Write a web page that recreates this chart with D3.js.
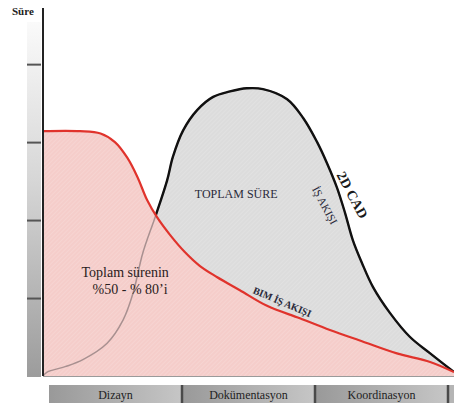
<!DOCTYPE html>
<html><head><meta charset="utf-8">
<script src="https://cdn.jsdelivr.net/npm/d3@7"></script>
<style>
html,body{margin:0;padding:0;background:#fff;}
svg{display:block;}
text{font-family:"Liberation Serif","Times New Roman",serif;}
</style></head>
<body>
<svg id="chart" width="454" height="408"></svg>
<script>
// ---- data ----
const phases = ["Dizayn", "Dokümentasyon", "Koordinasyon"];
const yTicks = [1, 2, 3, 4];
// progress through project (0-100), time units
const bimX = [0, 9, 14, 17.5, 20.5, 23, 25.3, 27.7, 30.9, 34.5, 38.2, 42.3, 47.9, 54.5, 62.5, 69.8, 77.9, 86.1, 94.2, 100];
const bimY = [3.14, 3.14, 3.11, 3.0, 2.8, 2.55, 2.26, 2.04, 1.81, 1.59, 1.41, 1.27, 1.10, 0.90, 0.74, 0.59, 0.44, 0.29, 0.18, 0.05];
const cadX = [0, 1, 5.4, 9.7, 15.6, 19.5, 21.9, 24.3, 27.3, 30.2, 31.6, 34.1, 37.5, 41.4, 45.5, 49.6, 53.5, 59.4, 63.3, 66.7, 69.1, 71.5, 73.5, 75.4, 77.6, 80.3, 84.4, 89.3, 94.2, 100];
const cadY = [0, 0.05, 0.12, 0.21, 0.42, 0.72, 1.06, 1.58, 2.04, 2.51, 2.81, 3.15, 3.41, 3.58, 3.65, 3.69, 3.68, 3.55, 3.31, 3.00, 2.73, 2.42, 2.09, 1.74, 1.45, 1.14, 0.81, 0.50, 0.29, 0.05];

const bim = bimX.map((d, i) => ({x: d, y: bimY[i]}));
const cad = cadX.map((d, i) => ({x: d, y: cadY[i]}));

const svg = d3.select("#chart");
const x = d3.scaleLinear().domain([0, 100]).range([43, 454]);
const y = d3.scaleLinear().domain([0, 4.72]).range([376, 8]);
const phaseX = d3.scaleBand().domain(phases).range([49, 448]).padding(0);
const curve = d3.curveCatmullRom.alpha(0.5);

const defs = svg.append("defs");
// gradients
const lg = defs.append("linearGradient").attr("id", "axisGrad").attr("x1", 0).attr("y1", 0).attr("x2", 0).attr("y2", 1);
lg.append("stop").attr("offset", "0%").attr("stop-color", "#fafafa");
lg.append("stop").attr("offset", "45%").attr("stop-color", "#d6d6d6");
lg.append("stop").attr("offset", "100%").attr("stop-color", "#9c9c9c");
const pg = defs.append("linearGradient").attr("id", "phaseGrad").attr("x1", 0).attr("y1", 0).attr("x2", 1).attr("y2", 0);
pg.append("stop").attr("offset", "0%").attr("stop-color", "#999");
pg.append("stop").attr("offset", "100%").attr("stop-color", "#c6c6c6");
// hatch pattern
const hp = defs.append("pattern").attr("id", "hatch").attr("patternUnits", "userSpaceOnUse")
  .attr("width", 3).attr("height", 3).attr("patternTransform", "rotate(45)");
hp.append("line").attr("x1", 0).attr("y1", 0).attr("x2", 0).attr("y2", 3)
  .attr("stroke", "#ffffff").attr("stroke-width", 0.8).attr("stroke-opacity", 0.35);

// clip: region above BIM curve
defs.append("clipPath").attr("id", "aboveBim").append("path")
  .attr("d", d3.area().x(d => x(d.x)).y0(0).y1(d => y(d.y)).curve(curve)(bim));

// left gradient bar + ticks
svg.append("rect").attr("x", 27).attr("y", 22).attr("width", 14).attr("height", 355).attr("fill", "url(#axisGrad)");
const yAxis = d3.axisLeft(y).tickValues(yTicks).tickSize(14).tickFormat("");
const ya = svg.append("g").attr("transform", "translate(41,0)").call(yAxis);
ya.select(".domain").remove();
ya.selectAll(".tick line").attr("stroke", "#555").attr("stroke-width", 2);

// areas
const area = d3.area().x(d => x(d.x)).y0(y(0)).y1(d => y(d.y)).curve(curve);
const line = d3.line().x(d => x(d.x)).y(d => y(d.y)).curve(curve);

svg.append("path").attr("d", area(cad)).attr("fill", "#dcdcdc");
svg.append("path").attr("d", area(cad)).attr("fill", "url(#hatch)");
svg.append("path").attr("d", area(bim)).attr("fill", "#f5cdca");
svg.append("path").attr("d", area(bim)).attr("fill", "url(#hatch)");
// faint part of CAD line seen through pink
svg.append("path").attr("d", line(cad)).attr("fill", "none").attr("stroke", "#a89090").attr("stroke-width", 1.5);
svg.append("path").attr("d", line(cad)).attr("fill", "none").attr("stroke", "#111").attr("stroke-width", 2.4)
  .attr("clip-path", "url(#aboveBim)");
svg.append("path").attr("d", line(bim)).attr("fill", "none").attr("stroke", "#e0332c").attr("stroke-width", 2.2);

// baseline and y axis line
svg.append("line").attr("x1", x(0)).attr("x2", x(100)).attr("y1", y(0) + 0.5).attr("y2", y(0) + 0.5)
  .attr("stroke", "#9a9a9a").attr("stroke-width", 1);
svg.append("line").attr("x1", x(0)).attr("x2", x(0)).attr("y1", y(4.72)).attr("y2", y(0))
  .attr("stroke", "#222").attr("stroke-width", 2);

// y label
svg.append("text").attr("x", 12).attr("y", 15).attr("font-size", 11).attr("font-weight", "bold")
  .attr("fill", "#222").text("Süre");

// phase bar
const pb = svg.append("g");
pb.selectAll("rect.seg").data(phases).enter().append("rect").attr("class", "seg")
  .attr("x", d => phaseX(d)).attr("y", 385).attr("width", phaseX.bandwidth()).attr("height", 18)
  .attr("fill", "url(#phaseGrad)");
pb.append("rect").attr("x", 448).attr("y", 385).attr("width", 6).attr("height", 18).attr("fill", "#b5b5b5");
pb.selectAll("line.sep").data(phases).enter().append("line").attr("class", "sep")
  .attr("x1", d => phaseX(d) + phaseX.bandwidth()).attr("x2", d => phaseX(d) + phaseX.bandwidth())
  .attr("y1", 385).attr("y2", 403).attr("stroke", "#4a4a4a").attr("stroke-width", 2.5);
pb.selectAll("text").data(phases).enter().append("text")
  .attr("x", d => phaseX(d) + phaseX.bandwidth() / 2).attr("y", 398.5)
  .attr("text-anchor", "middle").attr("font-size", 12).attr("fill", "#1e1e1e").text(d => d);

// annotations
svg.append("text").attr("x", x(47.0)).attr("y", y(2.28)).attr("text-anchor", "middle")
  .attr("font-size", 12).attr("fill", "#2a2a3a").text("TOPLAM SÜRE");
svg.append("text").attr("text-anchor", "middle").attr("dominant-baseline", "central")
  .attr("transform", `translate(${x(68.6)},${y(2.19)}) rotate(62)`)
  .attr("font-size", 11).attr("fill", "#2a2a3a").text("İŞ AKIŞI");
svg.append("text").attr("text-anchor", "middle").attr("dominant-baseline", "central")
  .attr("transform", `translate(${x(75.2)},${y(2.32)}) rotate(62)`)
  .attr("font-size", 14).attr("font-weight", "bold").attr("fill", "#1a1a1a").text("2D CAD");
svg.append("text").attr("text-anchor", "middle").attr("dominant-baseline", "central")
  .attr("transform", `translate(${x(58.2)},${y(0.95)}) rotate(23)`)
  .attr("font-size", 10).attr("font-weight", "bold").attr("fill", "#2a2a3a").text("BIM İŞ AKIŞI");
const note = svg.append("text").attr("text-anchor", "middle").attr("font-size", 14).attr("fill", "#2a2020");
note.append("tspan").attr("x", x(20.0)).attr("y", y(1.27)).text("Toplam sürenin");
note.append("tspan").attr("x", x(21.2)).attr("y", y(1.05)).text("%50  - % 80’i");
</script>
</body></html>
